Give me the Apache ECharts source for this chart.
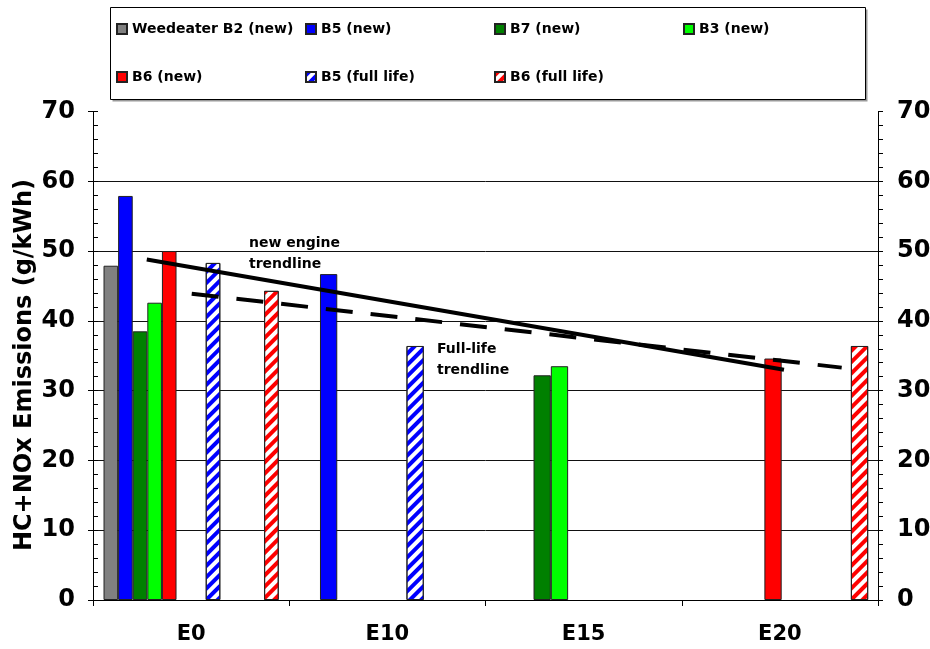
<!DOCTYPE html>
<html><head><meta charset="utf-8">
<script src="https://cdn.jsdelivr.net/npm/echarts@6/dist/echarts.min.js"></script>
<style>html,body{margin:0;padding:0;background:#fff}#c{width:930px;height:649px}</style>
</head><body><div id="c"></div>
<script>
// ---- data ----
const categories = ['E0', 'E10', 'E15', 'E20'];
const weedeaterB2New = [47.9, null, null, null];
const b5New = [57.9, 46.7, null, null];
const b7New = [38.5, null, 32.2, null];
const b3New = [42.6, null, 33.5, null];
const b6New = [50.0, null, null, 34.6];
const b5FullLife = [48.3, 36.4, null, null];
const b6FullLife = [44.3, null, null, 36.4];
const yTickLabels = ['0', '10', '20', '30', '40', '50', '60', '70'];
// trendline end points: x in category units (0 = left edge of E0, 4 = right edge of E20)
const newTrendX = [0.274, 3.521];
const newTrendY = [48.8, 33.0];
const fullTrendX = [0.503, 3.815];
const fullTrendY = [43.9, 33.3];

// ---- styling ----
const FONT = 'DejaVu Sans';
const BORDER = { borderColor: '#222', borderWidth: 1 };
function solid(c) { return Object.assign({ color: c }, BORDER); }
function hatch(c) {
  return Object.assign({ color: '#fff', decal: {
    symbol: 'rect', symbolSize: 1, dashArrayX: [1, 0], dashArrayY: [3.3, 3.3],
    rotation: -Math.PI / 4, color: c } }, BORDER);
}
const seriesInfo = {
  'Weedeater B2 (new)': { values: weedeaterB2New, style: solid('#808080') },
  'B5 (new)': { values: b5New, style: solid('#0000ff') },
  'B7 (new)': { values: b7New, style: solid('#008000') },
  'B3 (new)': { values: b3New, style: solid('#00ff00') },
  'B6 (new)': { values: b6New, style: solid('#ff0000') },
  'B5 (full life)': { values: b5FullLife, style: hatch('#0000ff') },
  'B6 (full life)': { values: b6FullLife, style: hatch('#ff0000') }
};
const legendOrder = Object.keys(seriesInfo);

// slot layouts: E0 group uses 12 narrow slots, E10..E20 groups use 10 wider slots
// (a slot entry that is a number is an empty spacer of that width)
const layoutA = ['Weedeater B2 (new)', 'B5 (new)', 'B7 (new)', 'B3 (new)', 'B6 (new)', null, null,
  'B5 (full life)', null, null, null, 'B6 (full life)'];
const layoutB = [3.6, null, 'B5 (new)', 'B7 (new)', 'B3 (new)', 'B6 (new)', null, 'B5 (full life)',
  null, null, 'B6 (full life)'];

const series = [];
function addLayout(layout, axisIndex, barWidth, keep) {
  layout.forEach((name, k) => {
    if (typeof name === 'string') {
      const info = seriesInfo[name];
      series.push({
        type: 'bar', name: name, xAxisIndex: axisIndex, yAxisIndex: 0,
        data: info.values.map((v, i) => keep(i) ? v : null),
        barWidth: barWidth, barGap: '0%', itemStyle: info.style,
        silent: true, animation: false
      });
    } else {
      series.push({
        type: 'bar', name: '_slot' + axisIndex + '_' + k, xAxisIndex: axisIndex, yAxisIndex: 0,
        data: categories.map(() => null), barWidth: (typeof name === 'number') ? name : barWidth,
        barGap: '0%', silent: true, animation: false
      });
    }
  });
}
addLayout(layoutA, 0, 14.6, i => i === 0);
addLayout(layoutB, 1, 17.3, i => i > 0);

series.push({
  type: 'line', name: 'new engine trendline', xAxisIndex: 2, yAxisIndex: 0,
  data: newTrendX.map((x, i) => [x, newTrendY[i]]), symbol: 'none', z: 5,
  lineStyle: { color: '#000', width: 4, type: 'solid' }, silent: true, animation: false
});
series.push({
  type: 'line', name: 'Full-life trendline', xAxisIndex: 2, yAxisIndex: 0,
  data: fullTrendX.map((x, i) => [x, fullTrendY[i]]), symbol: 'none', z: 5,
  lineStyle: { color: '#000', width: 4, type: [27, 18], cap: 'butt' }, silent: true, animation: false
});

const legendSpots = [[116, 22], [305, 22], [494, 22], [683, 22], [116, 70], [305, 70], [494, 70]];
const legends = legendOrder.map((name, i) => ({
  data: [name], left: legendSpots[i][0], top: legendSpots[i][1], padding: 0,
  itemWidth: 10, itemHeight: 10, icon: 'rect', selectedMode: false, z: 10,
  textStyle: { fontFamily: FONT, fontWeight: 'bold', fontSize: 14, color: '#000' }
}));

const labelStyle = { fontFamily: FONT, fontWeight: 'bold', fontSize: 24, color: '#000' };
const yBase = { type: 'value', min: 0, max: 70, interval: 10 };
const yFmt = v => yTickLabels[Math.round(v / 10)];

const option = {
  animation: false,
  backgroundColor: '#fff',
  grid: { left: 93, right: 52, top: 111.5, bottom: 49, containLabel: false, outerBoundsMode: 'none' },
  legend: legends,
  xAxis: [
    { type: 'category', data: categories, position: 'bottom',
      axisLine: { show: true, lineStyle: { color: '#000', width: 1 } },
      axisTick: { show: true, length: 6, lineStyle: { color: '#000' } },
      axisLabel: { margin: 24, fontFamily: FONT, fontWeight: 'bold', fontSize: 21, color: '#000' },
      splitLine: { show: false } },
    { type: 'category', data: categories, show: false },
    { type: 'value', min: 0, max: 4, show: false }
  ],
  yAxis: [
    Object.assign({}, yBase, { position: 'left',
      axisLine: { show: true, lineStyle: { color: '#000', width: 1 } },
      axisTick: { show: true, inside: true, length: 5, lineStyle: { color: '#000' } },
      minorTick: { show: true, splitNumber: 5, length: 5, lineStyle: { color: '#000' } },
      axisLabel: Object.assign({ margin: 18, formatter: yFmt }, labelStyle),
      splitLine: { show: true, showMinLine: false, showMaxLine: false, lineStyle: { color: '#111', width: 1 } } }),
    Object.assign({}, yBase, { position: 'right',
      axisLine: { show: true, lineStyle: { color: '#000', width: 1 } },
      axisTick: { show: true, inside: false, length: 5, lineStyle: { color: '#000' } },
      minorTick: { show: true, splitNumber: 5, length: 5, lineStyle: { color: '#000' } },
      axisLabel: Object.assign({ margin: 19, formatter: yFmt }, labelStyle),
      splitLine: { show: false } }),
    Object.assign({}, yBase, { position: 'left',
      axisLine: { show: false },
      axisTick: { show: true, inside: false, length: 5, lineStyle: { color: '#000' } },
      axisLabel: { show: false }, splitLine: { show: false } })
  ],
  graphic: [
    { type: 'rect', z: 0, silent: true, shape: { x: 112.5, y: 9.5, width: 755, height: 92 }, style: { fill: '#999' } },
    { type: 'rect', z: 1, silent: true, shape: { x: 110.5, y: 7.5, width: 755, height: 92 }, style: { fill: '#fff', stroke: '#000', lineWidth: 1 } },
    { type: 'text', z: 20, silent: true, x: 249, y: 253.5,
      style: { text: 'new engine\ntrendline', fontFamily: FONT, fontWeight: 'bold', fontSize: 14, lineHeight: 21,
        fill: '#000', align: 'left', verticalAlign: 'middle', textAlign: 'left', textVerticalAlign: 'middle' } },
    { type: 'text', z: 20, silent: true, x: 437, y: 360,
      style: { text: 'Full-life\ntrendline', fontFamily: FONT, fontWeight: 'bold', fontSize: 14, lineHeight: 21,
        fill: '#000', align: 'left', verticalAlign: 'middle', textAlign: 'left', textVerticalAlign: 'middle' } },
    { type: 'text', z: 20, silent: true, x: 25, y: 365, rotation: Math.PI / 2,
      style: { text: 'HC+NOx Emissions (g/kWh)', fontFamily: FONT, fontWeight: 'bold', fontSize: 24,
        fill: '#000', align: 'center', verticalAlign: 'middle', textAlign: 'center', textVerticalAlign: 'middle' } }
  ],
  series: series
};

const chart = echarts.init(document.getElementById('c'), null, { renderer: 'canvas' });
chart.setOption(option);
</script>
</body></html>
